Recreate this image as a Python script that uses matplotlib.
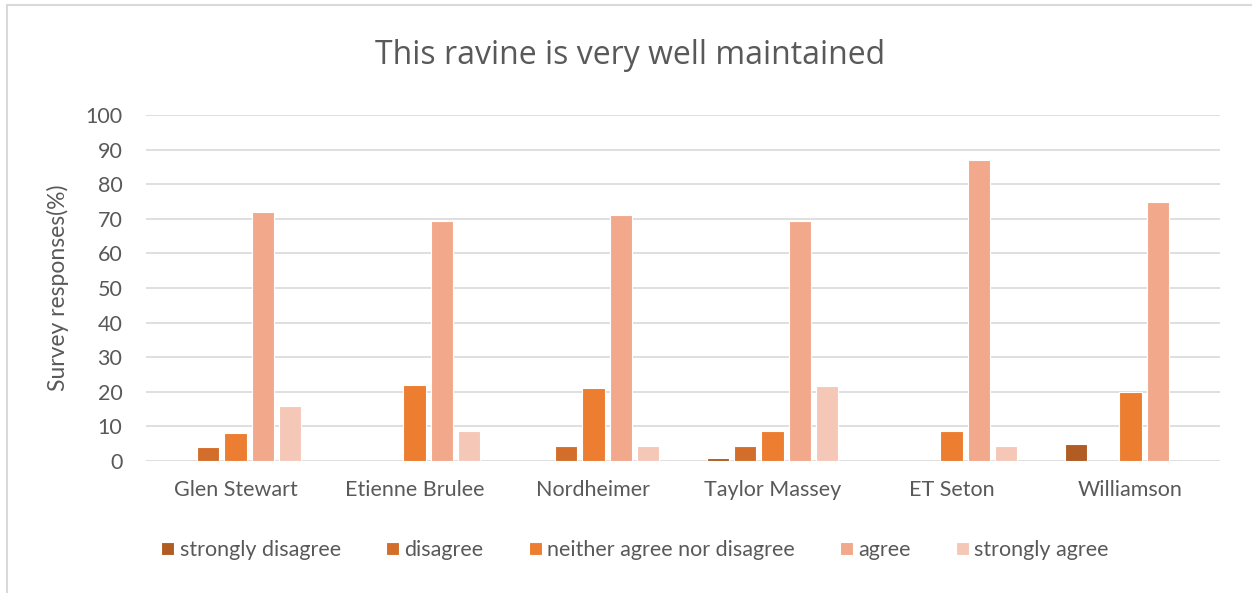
import matplotlib
matplotlib.use("Agg")
import matplotlib.pyplot as plt
from matplotlib.patches import Rectangle
import numpy as np

ravines = ["Glen Stewart", "Etienne Brulee", "Nordheimer", "Taylor Massey", "ET Seton", "Williamson"]
responses = ["strongly disagree", "disagree", "neither agree nor disagree", "agree", "strongly agree"]

strongly_disagree = [0, 0, 0, 1.0, 0, 5.0]
disagree = [4.0, 0, 4.3, 4.3, 0, 0]
neither = [8.0, 22.0, 21.0, 8.7, 8.7, 20.0]
agree = [72.0, 69.5, 71.0, 69.5, 87.0, 75.0]
strongly_agree = [16.0, 8.7, 4.3, 21.7, 4.3, 0]

series = [strongly_disagree, disagree, neither, agree, strongly_agree]
colors = ["#B05C22", "#D36D2B", "#ED7D31", "#F1A88B", "#F5C7B7"]

text_color = "#595959"
grid_color = "#D9D9D9"

fig = plt.figure(figsize=(12.52, 5.93), dpi=100)
W, H = 1252, 593
ax = fig.add_axes([146 / W, 1 - 461 / H, (1220 - 146) / W, (461 - 115) / H])

x = np.arange(len(ravines))
step = 0.151
width = 0.123
for i, (vals, col, name) in enumerate(zip(series, colors, responses)):
    ax.bar(x + (i - 2) * step, vals, width=width, color=col, edgecolor="white",
           linewidth=0.8, label=name, zorder=3)

ax.set_xlim(-0.5, len(ravines) - 0.5)
ax.set_ylim(0, 100)
ax.set_yticks(range(0, 101, 10))
ax.set_xticks(x)
ax.set_xticklabels(ravines, fontsize=15.5, color=text_color, family="Lato")
for lab in ax.get_yticklabels():
    lab.set_fontsize(15.5)
    lab.set_color(text_color)
    lab.set_family("Lato")
ax.tick_params(axis="y", length=0, pad=17)
ax.tick_params(axis="x", length=0, pad=14)
ax.grid(axis="y", color=grid_color, linewidth=1.2, zorder=0)
for s in ax.spines.values():
    s.set_visible(False)
ax.set_ylabel("Survey responses(%)", fontsize=16.5, color=text_color, family="Lato", labelpad=12)

fig.text(630 / W, 1 - 55 / H, "This ravine is very well maintained", ha="center", va="center",
         fontsize=23, color=text_color, family="Open Sans")

leg = fig.legend(loc="center", bbox_to_anchor=(635 / W, 1 - 550 / H), ncol=5, frameon=False,
                 handlelength=0.6, handleheight=0.6, handletextpad=0.25,
                 columnspacing=2.1, prop={"family": "Lato", "size": 15.5})
for t in leg.get_texts():
    t.set_color(text_color)

fig.patches.append(Rectangle((7 / W, -0.1), 1.2, 1 - 5 / H + 0.1, transform=fig.transFigure,
                             fill=False, edgecolor=grid_color, linewidth=1.5))

fig.savefig("out.png", dpi=100)
